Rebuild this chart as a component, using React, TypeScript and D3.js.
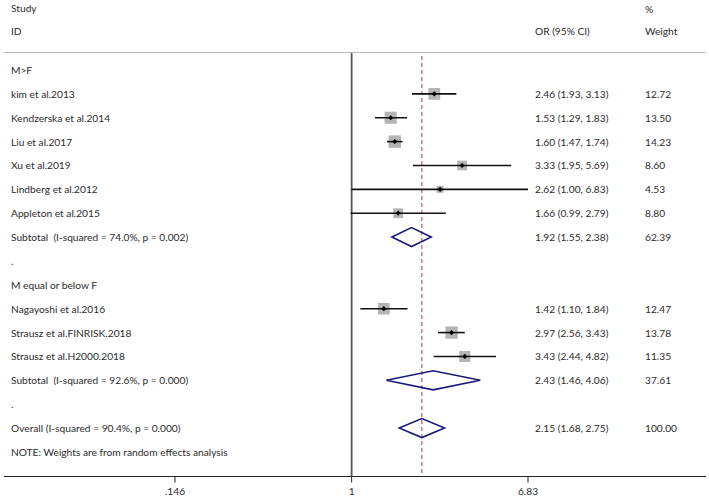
import React from "react";
import * as d3 from "d3";

const studyLabels = [
  "kim et al.2013",
  "Kendzerska et al.2014",
  "Liu et al.2017",
  "Xu et al.2019",
  "Lindberg et al.2012",
  "Appleton et al.2015",
  "Nagayoshi et al.2016",
  "Strausz et al.FINRISK.2018",
  "Strausz et al.H2000.2018",
];
const studyOR = [2.46, 1.53, 1.6, 3.33, 2.62, 1.66, 1.42, 2.97, 3.43];
const studyLo = [1.93, 1.29, 1.47, 1.95, 1.0, 0.99, 1.1, 2.56, 2.44];
const studyHi = [3.13, 1.83, 1.74, 5.69, 6.83, 2.79, 1.84, 3.43, 4.82];
const studyWeight = ["12.72", "13.50", "14.23", "8.60", "4.53", "8.80", "12.47", "13.78", "11.35"];
const studyRow = [1, 2, 3, 4, 5, 6, 10, 11, 12];

const summaryLabels = [
  "Subtotal  (I-squared = 74.0%, p = 0.002)",
  "Subtotal  (I-squared = 92.6%, p = 0.000)",
  "Overall (I-squared = 90.4%, p = 0.000)",
];
const summaryOR = [1.92, 2.43, 2.15];
const summaryLo = [1.55, 1.46, 1.68];
const summaryHi = [2.38, 4.06, 2.75];
const summaryWeight = ["62.39", "37.61", "100.00"];
const summaryRow = [7, 13, 15];

const otherLabels = ["M>F", ".", "M equal or below F", ".", "NOTE: Weights are from random effects analysis"];
const otherRow = [0, 8, 9, 14, 16];

const tickValues = [0.146, 1, 6.83];
const tickLabels = [".146", "1", "6.83"];
const overallOR = 2.15;

const fmt = d3.format(".2f");

export default function App() {
  const W = 709;
  const H = 498;
  const x = d3.scaleLog().domain([0.146, 6.83]).range([175, 528]);
  const y = (i: number) => 70 + 23.87 * i;
  const axisY = 476.5;
  const font = "Lato, 'Open Sans', sans-serif";
  const fs = 10.2;
  const textFill = "#2b2b2b";
  const colOR = 535;
  const colW = 645;
  const colL = 11;
  const sq = (w: string) => 3.3 * Math.sqrt(parseFloat(w));

  const diamond = (i: number) => {
    const cy = y(summaryRow[i]);
    const pts: [number, number][] = [
      [x(summaryLo[i]), cy],
      [x(summaryOR[i]), cy - 9.5],
      [x(summaryHi[i]), cy],
      [x(summaryOR[i]), cy + 9.5],
    ];
    return (d3.line()(pts) || "") + "Z";
  };

  return (
    <svg
      width={W}
      height={H}
      style={{ position: "absolute", left: 0, top: 0, background: "#fff" }}
      fontFamily={font}
      fontSize={fs}
    >
      <rect x={0} y={0} width={W} height={H} fill="#fff" />
      <g fill={textFill} dominantBaseline="central">
        <text x={colL} y={8}>Study</text>
        <text x={colL} y={31}>ID</text>
        <text x={colOR} y={31}>OR (95% CI)</text>
        <text x={colW} y={9}>%</text>
        <text x={colW} y={31}>Weight</text>
      </g>
      <line x1={4} x2={706} y1={52.5} y2={52.5} stroke="#bbb" strokeWidth={1.2} />
      <line x1={x(1)} x2={x(1)} y1={53} y2={axisY} stroke="#555" strokeWidth={1.8} />
      <line
        x1={x(overallOR)}
        x2={x(overallOR)}
        y1={56}
        y2={axisY}
        stroke="#a8334f"
        strokeWidth={1}
        strokeDasharray="4,3"
      />
      {studyLabels.map((lab, i) => {
        const cy = y(studyRow[i]);
        const s = sq(studyWeight[i]);
        const cx = x(studyOR[i]);
        return (
          <g key={lab}>
            <rect x={cx - s / 2} y={cy - s / 2} width={s} height={s} fill="#b5b5b5" />
            <line x1={x(studyLo[i])} x2={x(studyHi[i])} y1={cy} y2={cy} stroke="#111" strokeWidth={1.6} />
            <path
              d={`M${cx - 2.6},${cy}L${cx},${cy - 2.6}L${cx + 2.6},${cy}L${cx},${cy + 2.6}Z`}
              fill="#000"
            />
            <text x={colL} y={cy} fill={textFill} dominantBaseline="central">{lab}</text>
            <text x={colOR} y={cy} fill={textFill} dominantBaseline="central">
              {`${fmt(studyOR[i])} (${fmt(studyLo[i])}, ${fmt(studyHi[i])})`}
            </text>
            <text x={colW} y={cy} fill={textFill} dominantBaseline="central">{studyWeight[i]}</text>
          </g>
        );
      })}
      {summaryLabels.map((lab, i) => {
        const cy = y(summaryRow[i]);
        return (
          <g key={lab}>
            <path d={diamond(i)} fill="none" stroke="#1a1a7a" strokeWidth={1.6} />
            <text x={colL} y={cy} fill={textFill} dominantBaseline="central" style={{ whiteSpace: "pre" }}>
              {lab}
            </text>
            <text x={colOR} y={cy} fill={textFill} dominantBaseline="central">
              {`${fmt(summaryOR[i])} (${fmt(summaryLo[i])}, ${fmt(summaryHi[i])})`}
            </text>
            <text x={colW} y={cy} fill={textFill} dominantBaseline="central">{summaryWeight[i]}</text>
          </g>
        );
      })}
      {otherLabels.map((lab, i) => (
        <text key={i} x={colL} y={y(otherRow[i])} fill={textFill} dominantBaseline="central">
          {lab}
        </text>
      ))}
      <line x1={4} x2={706} y1={axisY} y2={axisY} stroke="#222" strokeWidth={1} />
      {tickValues.map((t, i) => (
        <g key={t}>
          <line x1={x(t)} x2={x(t)} y1={axisY} y2={axisY + 6} stroke="#222" strokeWidth={1} />
          <text x={x(t)} y={491} textAnchor="middle" fill={textFill} dominantBaseline="central">
            {tickLabels[i]}
          </text>
        </g>
      ))}
    </svg>
  );
}
